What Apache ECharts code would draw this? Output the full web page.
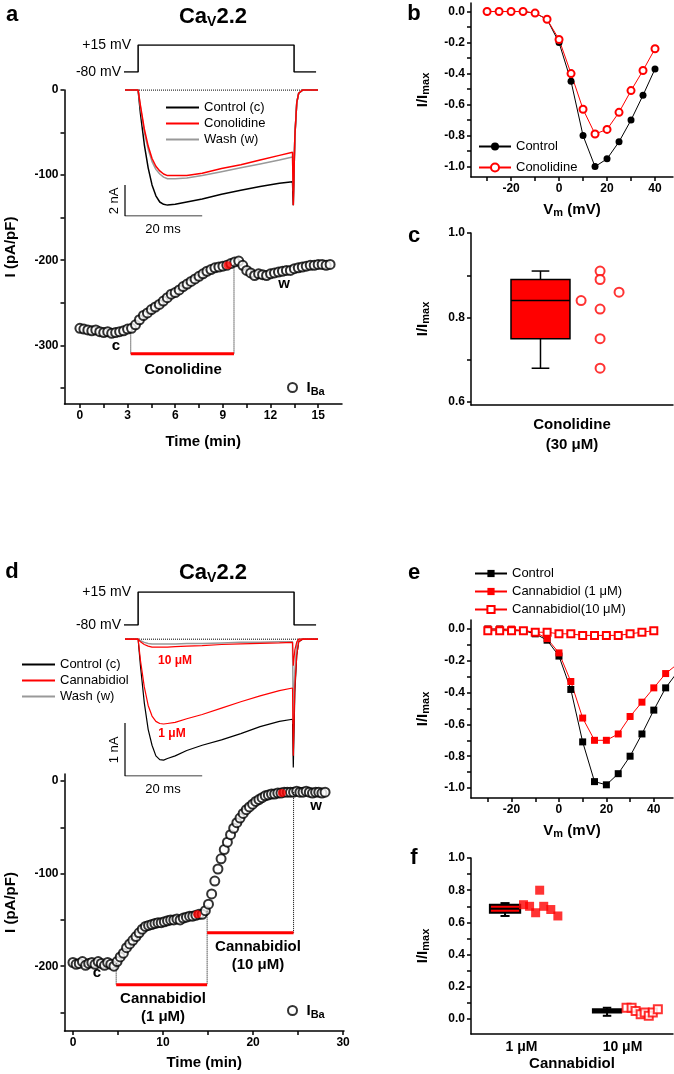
<!DOCTYPE html>
<html>
<head><meta charset="utf-8"></head>
<body style="margin:0">
<div id="chart" style="width:674px;height:1074px"></div>
<script src="https://cdn.jsdelivr.net/npm/echarts@6/dist/echarts.min.js"></script>
<script>
// ---- data ----
// panel a: time course (min, pA/pF)
const tStepA = 0.25;
const ibaA = [-280,-281,-282,-283,-282,-284,-285,-284,-286,-285,-284,-283,-281,
  -280,-276,-270,-265,-262,-258,-255,-252,-248,-244,-240,-238,-235,-231,-228,-225,-222,-219,-216,-213,-211,-209,-208,-207,-206,
  -204,-202,-201,-206,-212,-215,-218,-216,-217,-218,-216,-215,-214,-213,-212,-212,-210,-209,-208,-207,-206,-206,-205,-205,-206,-205];
const redDotA = [9.3, -206];
const barA = [[3.2, 9.7, -310]];
const dropsA = [[3.2, -285, -310], [9.7, -205, -310]];
// panel a inset traces (ms, nA)
const traceT = [0,3.4,4,5,6,7,8,9,10,11,13,16,20,25,30,35,40,43.4,43.6,44,44.5,45,46,50];
const ctlA  = [0,0,-1.5,-3.5,-5.0,-6.1,-6.8,-7.2,-7.35,-7.4,-7.35,-7.2,-7.0,-6.7,-6.45,-6.2,-6.0,-5.9,-7.4,-3,-0.8,-0.2,0,0];
const conA  = [0,0,-1,-2.5,-3.6,-4.4,-4.9,-5.2,-5.4,-5.5,-5.5,-5.5,-5.35,-5.05,-4.8,-4.5,-4.2,-4.0,-7.4,-3,-0.8,-0.2,0,0];
const washA = [0,0,-1.1,-2.7,-3.8,-4.6,-5.1,-5.4,-5.6,-5.7,-5.7,-5.65,-5.5,-5.25,-5.0,-4.75,-4.5,-4.3,-6.5,-3,-0.8,-0.2,0,0];
const protoT = [-0.8,3.4,3.4,43.8,43.8,49.5];
const protoV = [-80,-80,15,15,-80,-80];
// panel b: IV
const vmB = [-30,-25,-20,-15,-10,-5,0,5,10,15,20,25,30,35,40];
const ctlB = [0,0,0,0,-0.01,-0.05,-0.2,-0.45,-0.8,-1.0,-0.95,-0.84,-0.7,-0.54,-0.37];
const conB = [0,0,0,0,-0.01,-0.05,-0.18,-0.4,-0.63,-0.79,-0.76,-0.65,-0.51,-0.38,-0.24];
// panel c: box + points
const boxC = [[0.344, 0.68, 0.75, 0.84, 0.89, 0.91, 0.146]];
const ptsC = [[0.545,0.84],[0.639,0.91],[0.639,0.89],[0.639,0.82],[0.639,0.75],[0.639,0.68],[0.733,0.86]];
// panel d: time course
const tStepD = 0.35;
const ibaD = [-196,-198,-197,-195,-199,-197,-196,-198,-195,-197,-199,-196,-198,-200,
  -195,-190,-186,-180,-176,-172,-168,-164,-160,-157,-156,-155,-154,-153,
  -153,-152,-151,-150,-150,-149,-150,-148,-147,-146,-146,-145,-144,-144,
  -140,-133,-122,-108,-95,-84,-74,-66,-58,-51,-45,-40,-35,-31,
  -28,-25,-22,-20,-18,-16,-15,-14,-14,-13,-13,-12,-12,-12,
  -12,-11,-12,-12,-11,-12,-13,-12,-12,-13,-12];
const redDotsD = [[13.8,-144],[23.2,-13]];
const barsD = [[4.8, 14.9, -220], [14.9, 24.5, -164]];
const dropsD = [[4.8,-197,-220],[14.9,-140,-220],[24.5,-12,-164]];
const ctlD  = [0,0,-0.5,-1.2,-1.7,-2.0,-2.2,-2.27,-2.28,-2.25,-2.2,-2.1,-2.0,-1.9,-1.78,-1.65,-1.55,-1.51,-2.42,-1,-0.3,-0.05,0,0];
const cbdD  = [0,0,-0.4,-0.9,-1.25,-1.45,-1.55,-1.59,-1.6,-1.59,-1.57,-1.5,-1.42,-1.3,-1.18,-1.07,-0.97,-0.92,-2.2,-0.9,-0.3,-0.05,0,0];
const cbd10D = [0,0,-0.05,-0.1,-0.13,-0.15,-0.15,-0.15,-0.15,-0.15,-0.14,-0.13,-0.12,-0.1,-0.09,-0.08,-0.07,-0.06,-0.5,-0.2,-0.05,0,0,0];
const washD = [0,0,-0.03,-0.06,-0.08,-0.09,-0.09,-0.09,-0.09,-0.09,-0.09,-0.08,-0.08,-0.07,-0.06,-0.06,-0.05,-0.05,-1.6,-0.6,-0.1,0,0,0];
// panel e: IV
const vmE = [-30,-25,-20,-15,-10,-5,0,5,10,15,20,25,30,35,40,45,50];
const ctlE = [0,0,-0.01,-0.01,-0.03,-0.07,-0.17,-0.38,-0.71,-0.96,-0.98,-0.91,-0.8,-0.66,-0.51,-0.37,-0.27];
const cbdE = [0,0,0,-0.01,-0.02,-0.06,-0.15,-0.33,-0.56,-0.7,-0.7,-0.66,-0.55,-0.46,-0.37,-0.28,-0.22];
const vmE10 = [-30,-25,-20,-15,-10,-5,0,5,10,15,20,25,30,35,40];
const cbd10E = [-0.01,-0.01,-0.01,-0.01,-0.02,-0.02,-0.03,-0.03,-0.04,-0.04,-0.04,-0.04,-0.03,-0.02,-0.01];
// panel f
const catsF = ['1 μM', '10 μM'];
const boxF = [[0.337, 0.64, 0.66, 0.685, 0.71, 0.72, 0.15], [1.347, 0.02, 0.04, 0.05, 0.06, 0.07, 0.14]];
const pts1F = [[0.52,0.71],[0.58,0.70],[0.64,0.66],[0.68,0.80],[0.72,0.70],[0.79,0.68],[0.86,0.64]];
const pts10F = [[1.54,0.07],[1.59,0.07],[1.63,0.05],[1.68,0.03],[1.72,0.04],[1.76,0.02],[1.80,0.04],[1.85,0.06]];

// ---- helpers ----
const F = 'Liberation Sans';
const zip = (xs, ys) => xs.map((x, i) => [x, ys[i]]);
const seq = (step, ys) => ys.map((y, i) => [+(i * step).toFixed(2), y]);
const black = { color: '#000', width: 1.5 };
function vis(gi, min, max, o) {
  return Object.assign({
    type: 'value', gridIndex: gi, min, max,
    axisLine: { show: true, onZero: false, lineStyle: black },
    axisTick: { show: true, length: 4, lineStyle: black },
    axisLabel: { color: '#000', fontWeight: 'bold', fontSize: 12, fontFamily: F, margin: 6 },
    splitLine: { show: false },
    nameLocation: 'middle',
    nameTextStyle: { color: '#000', fontWeight: 'bold', fontSize: 15, fontFamily: F }
  }, o || {});
}
function labs(vals, ticks, fmt) {
  return {
    axisLabel: { customValues: vals, color: '#000', fontWeight: 'bold', fontSize: 12, fontFamily: F, margin: 6, formatter: fmt },
    axisTick: { show: true, customValues: ticks, length: 4, lineStyle: black }
  };
}
function hid(gi, min, max) {
  return { type: 'value', gridIndex: gi, min, max, show: false, position: 'bottom', splitLine: { show: false } };
}
const f1 = v => (+v).toFixed(1);
const subRich = {
  n: { fontWeight: 'bold', fontSize: 15, fontFamily: F, color: '#000' },
  s: { fontWeight: 'bold', fontSize: 11, fontFamily: F, color: '#000', verticalAlign: 'bottom', padding: [6, 0, 0, 0] }
};
function line(name, xi, data, color, o) {
  return Object.assign({ name, type: 'line', xAxisIndex: xi, yAxisIndex: xi, data, symbol: 'none',
    lineStyle: { color, width: 1.5 }, itemStyle: { color }, silent: true, animation: false }, o || {});
}
function segs(xi, arr, color, width, type) {
  return arr.map(s => line('', xi, s.length === 3 && type === 'dotted' ? [[s[0], s[1]], [s[0], s[2]]] : [[s[0], s[2]], [s[1], s[2]]],
    color, { lineStyle: { color, width, type: type || 'solid' } }));
}
function boxSeries(xi, data, stroke, lw) {
  return {
    type: 'custom', xAxisIndex: xi, yAxisIndex: xi, data, silent: true, animation: false,
    renderItem: (p, api) => {
      const x = api.value(0), hw = api.value(6);
      const c = (xx, v) => api.coord([xx, v]);
      const lo = c(x - hw, api.value(2)), hi = c(x + hw, api.value(4));
      const st = { stroke, lineWidth: lw };
      const ln = (a, b) => ({ type: 'line', shape: { x1: a[0], y1: a[1], x2: b[0], y2: b[1] }, style: st });
      return { type: 'group', children: [
        ln(c(x, api.value(1)), c(x, api.value(2))),
        ln(c(x, api.value(4)), c(x, api.value(5))),
        ln(c(x - hw * 0.3, api.value(1)), c(x + hw * 0.3, api.value(1))),
        ln(c(x - hw * 0.3, api.value(5)), c(x + hw * 0.3, api.value(5))),
        { type: 'rect', shape: { x: lo[0], y: hi[1], width: hi[0] - lo[0], height: lo[1] - hi[1] }, style: { fill: '#f00', stroke, lineWidth: lw } },
        ln(c(x - hw, api.value(3)), c(x + hw, api.value(3)))
      ] };
    }
  };
}
const legendNames = { ctlA: 'Control (c)', conA: 'Conolidine', washA: 'Wash (w)', ctlD: 'Control (c)', cbdD: 'Cannabidiol', washD: 'Wash (w)',
  ctlB: 'Control', conB: 'Conolidine', ctlE: 'Control', cbdE: 'Cannabidiol (1 μM)', cbd10E: 'Cannabidiol(10 μM)' };
const lgText = { color: '#000', fontSize: 13, fontFamily: F };
const ibaRich = { i: { fontSize: 15, fontWeight: 'bold', fontFamily: F, color: '#000' }, s: { fontSize: 11, fontWeight: 'bold', fontFamily: F, color: '#000', padding: [8, 0, 0, 0] } };
function txt(x, y, text, o) {
  return { type: 'text', x, y, style: Object.assign({ text, fill: '#000', font: 'bold 15px ' + F, align: 'center', verticalAlign: 'middle' }, o || {}) };
}
function caTitle(y) {
  return { type: 'text', x: 213, y, style: { text: '{a|Ca}{b|V}{a|2.2}', align: 'center', verticalAlign: 'middle',
    rich: { a: { font: 'bold 22px ' + F, fill: '#000' }, b: { font: 'bold 14px ' + F, fill: '#000', padding: [10, 0, 0, 0] } } } };
}
const catAxis = (gi, data, o) => Object.assign({ type: 'category', gridIndex: gi, position: 'bottom', data,
  axisLine: { lineStyle: black }, axisTick: { alignWithLabel: true, length: 4, lineStyle: black } }, o);

const option = {
  backgroundColor: '#fff',
  animation: false,
  grid: [
    { left: 64.5, top: 90, width: 277.5, height: 314 },   // 0 a time
    { left: 125, top: 87, width: 193, height: 129 },      // 1 a inset
    { left: 125, top: 45, width: 193, height: 27 },       // 2 a protocol
    { left: 471, top: 3, width: 202, height: 174 },       // 3 b
    { left: 471, top: 233, width: 202, height: 172 },     // 4 c
    { left: 64.5, top: 774, width: 279.5, height: 257 },  // 5 d time
    { left: 125, top: 636, width: 193, height: 140 },     // 6 d inset
    { left: 125, top: 592, width: 193, height: 33 },      // 7 d protocol
    { left: 471, top: 620, width: 202, height: 178 },     // 8 e
    { left: 471, top: 858, width: 202, height: 176 }      // 9 f
  ],
  xAxis: [
    vis(0, -0.97, 16.5, Object.assign({ name: 'Time (min)', nameGap: 30 }, labs([0,3,6,9,12,15], [0,1.5,3,4.5,6,7.5,9,10.5,12,13.5,15]))),
    hid(1, 0, 50),
    hid(2, 0, 50),
    vis(3, -36.7, 47.5, Object.assign({ name: '{n|V}{s|m}{n| (mV)}', nameGap: 24, nameTextStyle: { rich: subRich } }, labs([-20,0,20,40], [-30,-20,-10,0,10,20,30,40]))),
    hid(4, 0, 1),
    vis(5, -0.94, 30.1, Object.assign({ name: 'Time (min)', nameGap: 24 }, labs([0,10,20,30], [0,5,10,15,20,25,30]))),
    hid(6, 0, 50),
    hid(7, 0, 50),
    vis(8, -37.1, 48.1, Object.assign({ name: '{n|V}{s|m}{n| (mV)}', nameGap: 24, nameTextStyle: { rich: subRich } }, labs([-20,0,20,40], [-30,-20,-10,0,10,20,30,40]))),
    hid(9, 0, 2),
    catAxis(4, ['Conolidine\n(30 μM)'], {
      axisLabel: { color: '#000', fontWeight: 'bold', fontSize: 15, fontFamily: F, lineHeight: 20, margin: 10 } }),
    catAxis(9, catsF, {
      axisLabel: { color: '#000', fontWeight: 'bold', fontSize: 14, fontFamily: F, margin: 6 },
      name: 'Cannabidiol', nameLocation: 'middle', nameGap: 22,
      nameTextStyle: { color: '#000', fontWeight: 'bold', fontSize: 15, fontFamily: F } })
  ],
  yAxis: [
    vis(0, -369, 0, Object.assign({ name: 'I (pA/pF)', nameGap: 46 }, labs([0,-100,-200,-300], [0,-50,-100,-150,-200,-250,-300,-350]))),
    hid(1, -8.1, 0.2),
    hid(2, -80, 15),
    vis(3, -1.067, 0.055, Object.assign({ name: '{n|I/I}{s|max}', nameGap: 40, nameTextStyle: { rich: subRich } }, labs([0,-0.2,-0.4,-0.6,-0.8,-1.0], [0,-0.1,-0.2,-0.3,-0.4,-0.5,-0.6,-0.7,-0.8,-0.9,-1.0], f1))),
    vis(4, 0.593, 1.0, Object.assign({ name: '{n|I/I}{s|max}', nameGap: 40, nameTextStyle: { rich: subRich } }, labs([0.6,0.8,1.0], [0.6,0.7,0.8,0.9,1.0], f1))),
    vis(5, -270, 7.6, Object.assign({ name: 'I (pA/pF)', nameGap: 46 }, labs([0,-100,-200], [0,-50,-100,-150,-200,-250]))),
    hid(6, -2.58, 0.06),
    hid(7, -80, 15),
    vis(8, -1.063, 0.057, Object.assign({ name: '{n|I/I}{s|max}', nameGap: 40, nameTextStyle: { rich: subRich } }, labs([0,-0.2,-0.4,-0.6,-0.8,-1.0], [0,-0.1,-0.2,-0.3,-0.4,-0.5,-0.6,-0.7,-0.8,-0.9,-1.0], f1))),
    vis(9, -0.093, 1.0, Object.assign({ name: '{n|I/I}{s|max}', nameGap: 40, nameTextStyle: { rich: subRich } }, labs([0,0.2,0.4,0.6,0.8,1.0], [0,0.1,0.2,0.3,0.4,0.5,0.6,0.7,0.8,0.9,1.0], f1)))
  ],
  legend: [
    { data: ['ctlA','conA','washA'], left: 161, top: 96, orient: 'vertical', icon: 'rect', itemWidth: 33, itemHeight: 2, itemGap: 3,
      formatter: n => legendNames[n], textStyle: lgText },
    { data: ['ctlD','cbdD','washD'], left: 17, top: 653, orient: 'vertical', icon: 'rect', itemWidth: 33, itemHeight: 2, itemGap: 3,
      formatter: n => legendNames[n], textStyle: lgText },
    { data: ['ctlB','conB'], left: 473, top: 135, orient: 'vertical', itemWidth: 32, itemHeight: 10, itemGap: 8,
      formatter: n => legendNames[n], textStyle: lgText },
    { data: ['ctlE','cbdE','cbd10E'], left: 469, top: 562, orient: 'vertical', itemWidth: 32, itemHeight: 9, itemGap: 5,
      formatter: n => legendNames[n], textStyle: lgText },
    { data: ['ibaA'], left: 282, top: 375, itemWidth: 18, itemHeight: 9, formatter: () => '{i|I}{s|Ba}', textStyle: { rich: ibaRich } },
    { data: ['ibaD'], left: 282, top: 998, itemWidth: 18, itemHeight: 9, formatter: () => '{i|I}{s|Ba}', textStyle: { rich: ibaRich } }
  ],
  series: [
    // a time course
    ...segs(0, dropsA, '#000', 1, 'dotted'),
    ...segs(0, barA, '#f00', 3),
    { name: 'ibaA', type: 'scatter', xAxisIndex: 0, yAxisIndex: 0, data: seq(tStepA, ibaA), symbol: 'emptyCircle', symbolSize: 9,
      itemStyle: { color: '#000', borderColor: '#000', borderWidth: 1.2 } },
    { type: 'scatter', xAxisIndex: 0, yAxisIndex: 0, data: [redDotA], symbol: 'circle', symbolSize: 8, itemStyle: { color: '#f00' } },
    // a inset
    line('', 1, [[0, 0], [50, 0]], '#000', { lineStyle: { color: '#000', width: 1, type: 'dotted' } }),
    line('ctlA', 1, zip(traceT, ctlA), '#000'),
    line('washA', 1, zip(traceT, washA), '#999'),
    line('conA', 1, zip(traceT, conA), '#f00'),
    line('', 1, [[0, -6.1], [0, -8.1], [20, -8.1]], '#000', { lineStyle: { color: '#000', width: 1.2 } }),
    line('', 2, zip(protoT, protoV), '#000'),
    // b
    line('ctlB', 3, zip(vmB, ctlB), '#000', { symbol: 'circle', symbolSize: 7, lineStyle: { color: '#000', width: 1 } }),
    line('conB', 3, zip(vmB, conB), '#f00', { symbol: 'emptyCircle', symbolSize: 7, lineStyle: { color: '#f00', width: 1 }, itemStyle: { color: '#f00', borderWidth: 1.5 } }),
    // c
    boxSeries(4, boxC, '#000', 1.5),
    { type: 'scatter', xAxisIndex: 4, yAxisIndex: 4, data: ptsC, symbol: 'emptyCircle', symbolSize: 9, itemStyle: { color: '#f00', borderColor: '#f00', borderWidth: 2 } },
    // d time course
    ...segs(5, dropsD, '#000', 1, 'dotted'),
    ...segs(5, barsD, '#f00', 3),
    { name: 'ibaD', type: 'scatter', xAxisIndex: 5, yAxisIndex: 5, data: seq(tStepD, ibaD), symbol: 'emptyCircle', symbolSize: 9,
      itemStyle: { color: '#000', borderColor: '#000', borderWidth: 1.2 } },
    { type: 'scatter', xAxisIndex: 5, yAxisIndex: 5, data: redDotsD, symbol: 'circle', symbolSize: 8, itemStyle: { color: '#f00' } },
    // d inset
    line('', 6, [[0, 0], [50, 0]], '#000', { lineStyle: { color: '#000', width: 1, type: 'dotted' } }),
    line('ctlD', 6, zip(traceT, ctlD), '#000', { lineStyle: { color: '#000', width: 1.2 } }),
    line('washD', 6, zip(traceT, washD), '#999'),
    line('cbdD', 6, zip(traceT, cbdD), '#f00', { lineStyle: { color: '#f00', width: 1.2 } }),
    line('', 6, zip(traceT, cbd10D), '#f00', { lineStyle: { color: '#f00', width: 1.2 } }),
    line('', 6, [[0, -1.58], [0, -2.58], [20, -2.58]], '#000', { lineStyle: { color: '#000', width: 1.2 } }),
    line('', 7, zip(protoT, protoV), '#000'),
    // e
    line('ctlE', 8, zip(vmE, ctlE), '#000', { symbol: 'rect', symbolSize: 7, lineStyle: { color: '#000', width: 1 } }),
    line('cbdE', 8, zip(vmE, cbdE), '#f00', { symbol: 'rect', symbolSize: 7, lineStyle: { color: '#f00', width: 1 } }),
    line('cbd10E', 8, zip(vmE10, cbd10E), '#f00', { symbol: 'emptyRect', symbolSize: 7, lineStyle: { color: '#f00', width: 1 }, itemStyle: { color: '#f00', borderWidth: 1.3 } }),
    // f
    boxSeries(9, boxF, '#000', 2),
    { type: 'scatter', xAxisIndex: 9, yAxisIndex: 9, data: pts1F, symbol: 'rect', symbolSize: 9, itemStyle: { color: '#f00' } },
    { type: 'scatter', xAxisIndex: 9, yAxisIndex: 9, data: pts10F, symbol: 'emptyRect', symbolSize: 8, itemStyle: { color: '#f00', borderColor: '#f00', borderWidth: 1.5 } }
  ],
  graphic: [
    txt(12, 15, 'a', { font: 'bold 22px ' + F }), txt(414, 14, 'b', { font: 'bold 22px ' + F }),
    txt(414, 236, 'c', { font: 'bold 22px ' + F }), txt(12, 572, 'd', { font: 'bold 22px ' + F }),
    txt(414, 573, 'e', { font: 'bold 22px ' + F }), txt(414, 858, 'f', { font: 'bold 22px ' + F }),
    caTitle(17), caTitle(573),
    txt(131, 45, '+15 mV', { font: '14px ' + F, align: 'right' }), txt(121, 72, '-80 mV', { font: '14px ' + F, align: 'right' }),
    txt(131, 592, '+15 mV', { font: '14px ' + F, align: 'right' }), txt(121, 625, '-80 mV', { font: '14px ' + F, align: 'right' }),
    Object.assign(txt(114, 201, '2 nA', { font: '13px ' + F }), { rotation: Math.PI / 2 }),
    txt(163, 229, '20 ms', { font: '13px ' + F }),
    Object.assign(txt(114, 750, '1 nA', { font: '13px ' + F }), { rotation: Math.PI / 2 }),
    txt(163, 789, '20 ms', { font: '13px ' + F }),
    txt(116, 346, 'c'), txt(284, 284, 'w'), txt(183, 370, 'Conolidine'),
    txt(97, 973, 'c'), txt(316, 806, 'w'),
    txt(163, 999, 'Cannabidiol'), txt(163, 1017, '(1 μM)'),
    txt(258, 947, 'Cannabidiol'), txt(258, 965, '(10 μM)'),
    txt(175, 661, '10 μM', { font: 'bold 12px ' + F, fill: '#f00' }),
    txt(172, 734, '1 μM', { font: 'bold 12px ' + F, fill: '#f00' })
  ]
};
const chart = echarts.init(document.getElementById('chart'));
chart.setOption(option);
</script>
</body>
</html>
